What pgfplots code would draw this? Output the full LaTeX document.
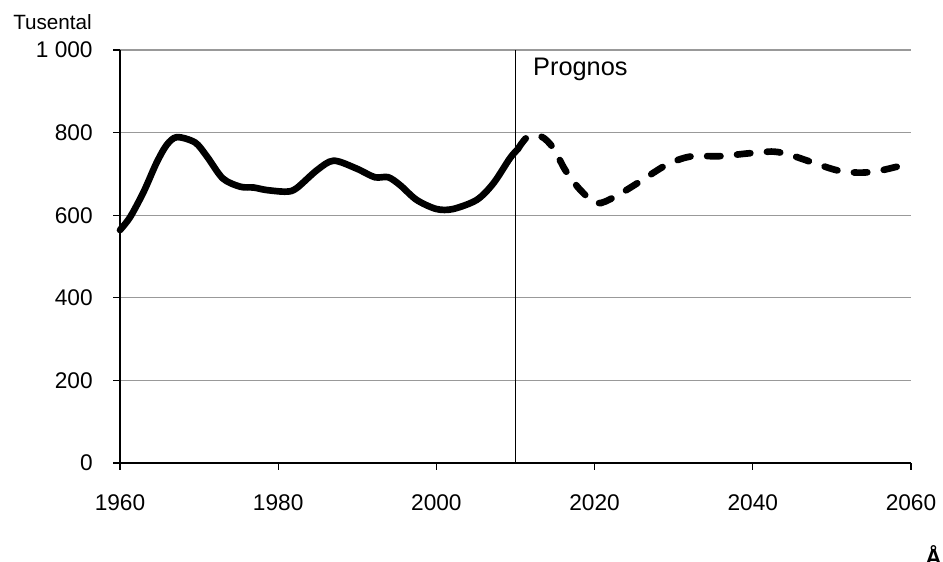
\documentclass[border=0pt]{standalone}
\usepackage{pgfplots}
\pgfplotsset{compat=1.18}
\usepackage{fontspec}
\setmainfont{Liberation Sans}
\begin{document}
\begin{tikzpicture}
\begin{axis}[
  name=ax,
  at={(0,0)}, anchor=south west,
  scale only axis,
  width=593.25pt, height=309.75pt,
  xmin=1960, xmax=2060, ymin=0, ymax=1000,
  axis x line=bottom, axis y line=left,
  axis line style={black, line width=0.9pt, -},
  xtick={1960,1980,...,2060},
  ytick={0,200,...,1000},
  yticklabels={0,200,400,600,800,1\ 000},
  xticklabels={1960,1980,2000,2020,2040,2060},
  tick align=outside,
  major tick length=5pt,
  tick style={black, line width=0.9pt},
  ymajorgrids,
  grid style={gray!80, line width=0.9pt},
  ticklabel style={font=\fontsize{17}{20}\selectfont},
  /pgf/number format/assume math mode=true,
  xticklabel style={yshift=-15pt},
  yticklabel style={xshift=-12pt},
  clip=false,
]
\addplot[black, line width=5pt, smooth, tension=0.5, line cap=round] coordinates {
(1960,564) (1961.3,596) (1963,657) (1964.6,726) (1965.9,770) (1967.2,789)
(1969.5,776) (1971,742) (1973,689) (1975.2,669) (1976.9,667) (1978.5,661)
(1981,657) (1982.3,665) (1984.9,709) (1987,732) (1989.9,713) (1992.2,692)
(1993.9,692) (1995.4,673) (1997.5,637) (2000,615) (2002.1,615) (2005.1,637)
(2007.2,677) (2009.3,738) (2010.3,760)
};
\addplot[black, line width=5pt, smooth, tension=0.5, line cap=round, dash pattern=on 10pt off 12.5pt] coordinates {
(2010.3,760) (2011.5,789) (2013.3,790) (2014.8,762) (2016.3,709) (2018.2,661)
(2020.3,629) (2022.6,645) (2025.7,681) (2029.1,722) (2032.1,742) (2035.9,743)
(2039.6,750) (2042.6,754) (2044.7,746) (2047.2,730) (2050.6,709) (2053.5,703)
(2056.1,708) (2060,726)
};
\draw[black, line width=0.9pt] (axis cs:2010,0) -- (axis cs:2010,1000);
\node[anchor=base west, font=\fontsize{19}{22}\selectfont, inner sep=0pt] at (axis cs:2012.2,939) {Prognos};
\end{axis}
\node[anchor=west, font=\fontsize{15.5}{18}\selectfont, inner sep=0pt] at ([shift={(-80.25pt,21pt)}]ax.north west) {Tusental};
\node[anchor=base west, font=\bfseries\fontsize{17}{20}\selectfont, inner sep=0pt] at ([shift={(603.75pt,-76.5pt)}]ax.south west) {År};
\pgfresetboundingbox
\path[use as bounding box] ([shift={(-90pt,-73.5pt)}]ax.south west) rectangle ([shift={(24pt,37.5pt)}]ax.north east);
\end{tikzpicture}
\end{document}
